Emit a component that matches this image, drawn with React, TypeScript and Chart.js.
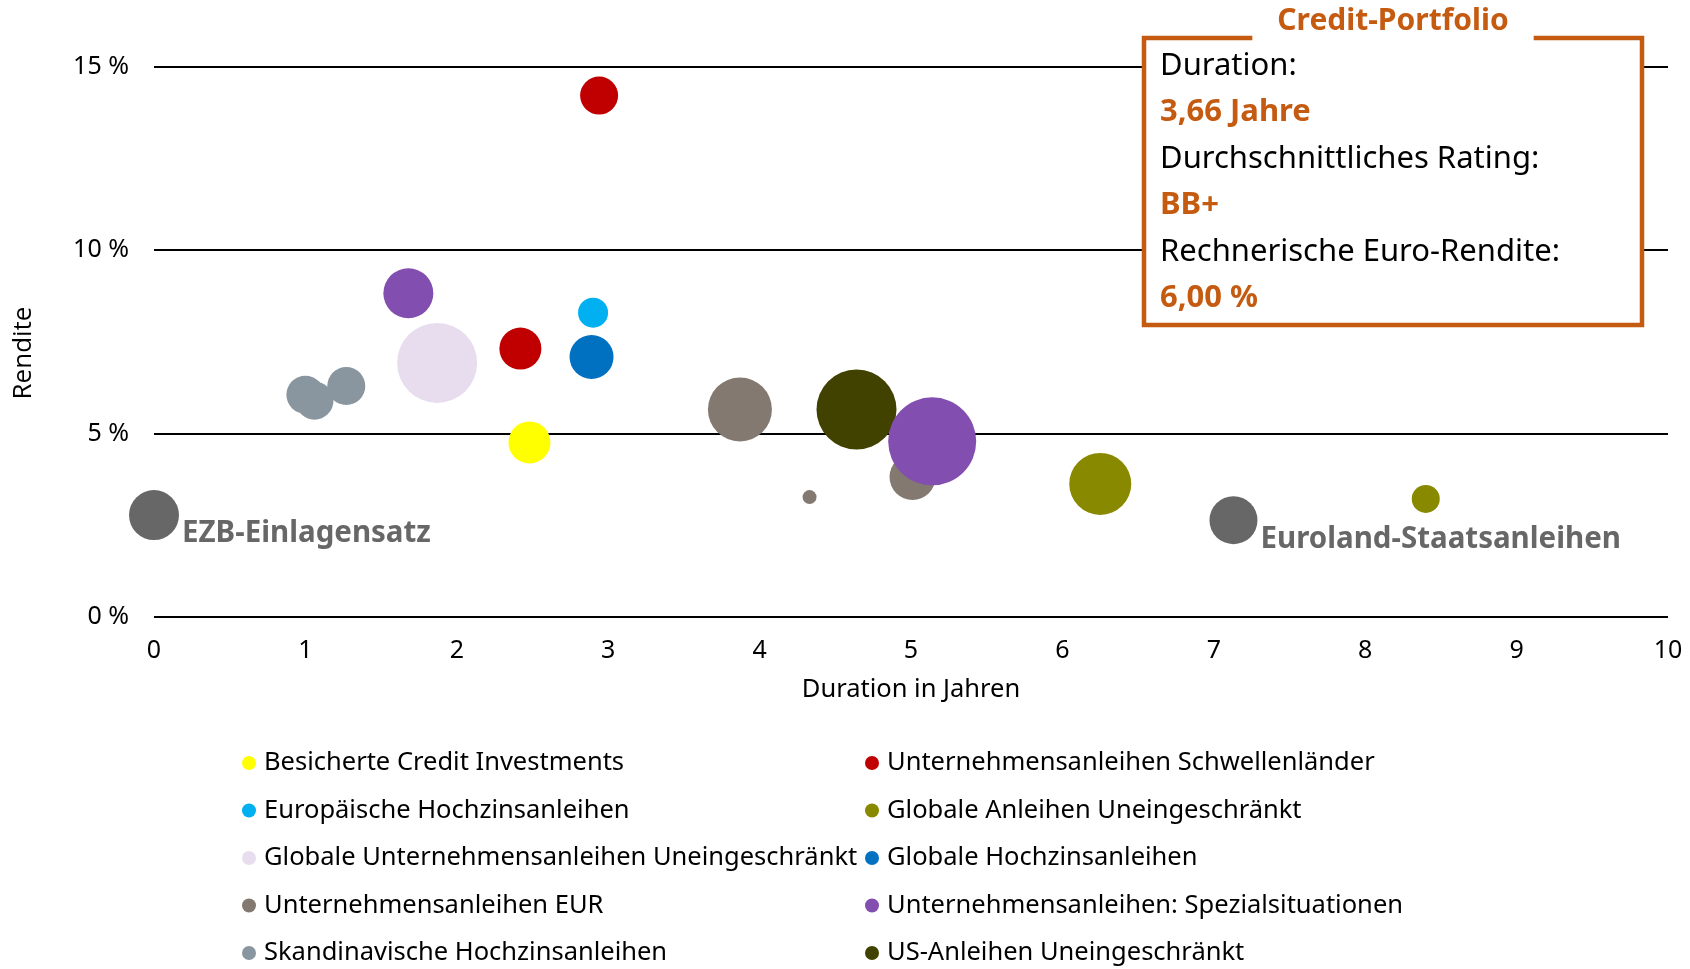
import React, { useEffect, useRef } from "react";
import { Chart, registerables } from "chart.js";

Chart.register(...registerables);

// ---------- data (x = Duration in Jahren, y = Rendite in %, r = Bubble-Größe) ----------
const seriesNames = [
  "Besicherte Credit Investments",
  "Unternehmensanleihen Schwellenländer",
  "Europäische Hochzinsanleihen",
  "Globale Anleihen Uneingeschränkt",
  "Globale Unternehmensanleihen Uneingeschränkt",
  "Globale Hochzinsanleihen",
  "Unternehmensanleihen EUR",
  "Unternehmensanleihen: Spezialsituationen",
  "Skandinavische Hochzinsanleihen",
  "US-Anleihen Uneingeschränkt",
];
const seriesColors = [
  "#FFFF00",
  "#C00000",
  "#00B0F0",
  "#898900",
  "#E7DDEF",
  "#0070C0",
  "#837970",
  "#824EAF",
  "#8996A0",
  "#414100",
];

const besicherteCredit = [{ x: 2.48, y: 4.76, r: 21 }];
const schwellenlaender = [
  { x: 2.94, y: 14.22, r: 19 },
  { x: 2.42, y: 7.32, r: 21 },
];
const europHochzins = [{ x: 2.9, y: 8.3, r: 15 }];
const globalAnleihenUneing = [
  { x: 6.25, y: 3.63, r: 31 },
  { x: 8.4, y: 3.22, r: 14 },
];
const globalUnternUneing = [{ x: 1.87, y: 6.93, r: 40 }];
const globalHochzins = [{ x: 2.89, y: 7.09, r: 22 }];
const unternEur = [
  { x: 3.87, y: 5.66, r: 32 },
  { x: 5.01, y: 3.82, r: 23 },
  { x: 4.33, y: 3.27, r: 7 },
];
const spezialsituationen = [
  { x: 1.68, y: 8.83, r: 25 },
  { x: 5.14, y: 4.79, r: 44 },
];
const skandinavisch = [
  { x: 1.0, y: 6.06, r: 19 },
  { x: 1.06, y: 5.9, r: 19 },
  { x: 1.27, y: 6.3, r: 19 },
];
const usAnleihen = [{ x: 4.64, y: 5.66, r: 40 }];

const seriesData = [
  besicherteCredit,
  schwellenlaender,
  europHochzins,
  globalAnleihenUneing,
  globalUnternUneing,
  globalHochzins,
  unternEur,
  spezialsituationen,
  skandinavisch,
  usAnleihen,
];
// draw order (higher = further behind)
const seriesOrder = [0, 0, 0, 0, 0, 0, 1, 0, 0, 0];

const referenceNames = ["EZB-Einlagensatz", "Euroland-Staatsanleihen"];
const ezbPoint = [{ x: 0, y: 2.78, r: 25 }];
const eurolandPoint = [{ x: 7.13, y: 2.64, r: 24 }];
const referenceColor = "#676767";

const xTickValues = [0, 1, 2, 3, 4, 5, 6, 7, 8, 9, 10];
const yTickValues = [0, 5, 10, 15];

const xAxisTitle = "Duration in Jahren";
const yAxisTitle = "Rendite";

const portfolioTitle = "Credit-Portfolio";
const portfolioLines = [
  { label: "Duration:", value: "3,66 Jahre" },
  { label: "Durchschnittliches Rating:", value: "BB+" },
  { label: "Rechnerische Euro-Rendite:", value: "6,00 %" },
];

// ---------- styling ----------
const FONT = "'Noto Sans', sans-serif";
const ORANGE = "#C55A11";

const overlayPlugin = {
  id: "overlay",
  afterDatasetsDraw(chart: any) {
    const ctx = chart.ctx;
    chart.data.datasets.forEach((ds: any, i: number) => {
      if (!ds.annotation) return;
      const el = chart.getDatasetMeta(i).data[0];
      if (!el) return;
      ctx.save();
      ctx.font = `bold 29.5px ${FONT}`;
      ctx.fillStyle = referenceColor;
      ctx.textAlign = "left";
      ctx.textBaseline = "middle";
      ctx.fillText(ds.annotation, el.x + ds.data[0].r + 3, el.y + 19);
      ctx.restore();
    });
  },
  afterDraw(chart: any) {
    const ctx = chart.ctx;
    // ---- y-axis title ----
    ctx.save();
    ctx.font = `26px 'Open Sans', sans-serif`;
    ctx.fillStyle = "#000";
    ctx.textAlign = "center";
    ctx.textBaseline = "middle";
    ctx.translate(24, 353);
    ctx.rotate(-Math.PI / 2);
    ctx.fillText(yAxisTitle, 0, 0);
    ctx.restore();

    // ---- custom two-column legend ----
    const items = chart.data.datasets.filter((d: any) => !d.annotation);
    ctx.save();
    ctx.font = `25.5px ${FONT}`;
    ctx.textBaseline = "middle";
    ctx.textAlign = "left";
    items.forEach((ds: any, i: number) => {
      const col = i % 2;
      const row = Math.floor(i / 2);
      const mx = col === 0 ? 249 : 872;
      const my = 763 + row * 47.5;
      ctx.fillStyle = ds.backgroundColor;
      ctx.beginPath();
      ctx.arc(mx, my, 7, 0, Math.PI * 2);
      ctx.fill();
      ctx.fillStyle = "#000";
      ctx.fillText(ds.label, mx + 15, my);
    });
    ctx.restore();

    // ---- Credit-Portfolio box ----
    const left = 1144;
    const right = 1642;
    const top = 38;
    const bottom = 325;
    ctx.save();
    ctx.fillStyle = "#fff";
    ctx.fillRect(left, top, right - left, bottom - top);
    ctx.font = `bold 30px ${FONT}`;
    const tw = ctx.measureText(portfolioTitle).width;
    const cx = 1393;
    const gapL = cx - tw / 2 - 25;
    const gapR = cx + tw / 2 + 25;
    ctx.strokeStyle = ORANGE;
    ctx.lineWidth = 4.5;
    ctx.lineJoin = "miter";
    ctx.beginPath();
    ctx.moveTo(gapL, top);
    ctx.lineTo(left, top);
    ctx.lineTo(left, bottom);
    ctx.lineTo(right, bottom);
    ctx.lineTo(right, top);
    ctx.lineTo(gapR, top);
    ctx.stroke();
    ctx.fillStyle = ORANGE;
    ctx.textAlign = "center";
    ctx.textBaseline = "middle";
    ctx.fillText(portfolioTitle, cx, 21);
    ctx.textAlign = "left";
    portfolioLines.forEach((ln, i) => {
      const y0 = 66 + i * 93;
      ctx.font = `31px ${FONT}`;
      ctx.fillStyle = "#000";
      ctx.fillText(ln.label, 1160, y0);
      ctx.font = `bold 31px ${FONT}`;
      ctx.fillStyle = ORANGE;
      ctx.fillText(ln.value, 1160, y0 + 46.5);
    });
    ctx.restore();
  },
};

export default function App() {
  const canvasRef = useRef<HTMLCanvasElement | null>(null);

  useEffect(() => {
    document.body.style.margin = "0";
    const canvas = canvasRef.current;
    if (!canvas) return;

    const datasets: any[] = seriesNames.map((name, i) => ({
      label: name,
      data: seriesData[i],
      backgroundColor: seriesColors[i],
      borderWidth: 0,
      hoverBorderWidth: 0,
      order: seriesOrder[i],
      clip: false,
    }));
    referenceNames.forEach((name, i) => {
      datasets.push({
        label: name,
        annotation: name,
        data: i === 0 ? ezbPoint : eurolandPoint,
        backgroundColor: referenceColor,
        borderWidth: 0,
        hoverBorderWidth: 0,
        order: 0,
        clip: false,
      });
    });

    const chart = new Chart(canvas, {
      type: "bubble",
      data: { datasets },
      plugins: [overlayPlugin],
      options: {
        animation: false,
        responsive: false,
        devicePixelRatio: 1,
        layout: {
          autoPadding: false,
          padding: { left: 0, top: 67, right: 22, bottom: 252 },
        },
        plugins: {
          legend: { display: false },
          tooltip: { enabled: false },
        },
        scales: {
          x: {
            type: "linear",
            min: 0,
            max: 10,
            afterFit(scale: any) {
              scale.height = 100;
              scale.paddingLeft = 0;
              scale.paddingRight = 0;
            },
            afterBuildTicks(scale: any) {
              scale.ticks = xTickValues.map((v) => ({ value: v }));
            },
            grid: { display: false, drawTicks: false },
            border: { display: false },
            ticks: {
              padding: 19,
              color: "#000",
              font: { family: FONT, size: 25 },
              maxRotation: 0,
            },
            title: {
              display: true,
              text: xAxisTitle,
              color: "#000",
              font: { family: FONT, size: 25.5 },
              padding: { top: 0, bottom: 12 },
            },
          },
          y: {
            type: "linear",
            min: 0,
            max: 15,
            afterFit(scale: any) {
              scale.width = 154;
            },
            afterBuildTicks(scale: any) {
              scale.ticks = yTickValues.map((v) => ({ value: v }));
            },
            grid: {
              color: "#000",
              lineWidth: 2,
              drawTicks: false,
            },
            border: { display: false },
            ticks: {
              padding: 25,
              color: "#000",
              font: { family: FONT, size: 25 },
              callback: (v: any) => `${v} %`,
            },
            title: { display: false },
          },
        },
      } as any,
    });

    return () => chart.destroy();
  }, []);

  return (
    <div style={{ width: 1690, height: 969, background: "#fff" }}>
      <canvas ref={canvasRef} width={1690} height={969} style={{ display: "block" }} />
    </div>
  );
}
